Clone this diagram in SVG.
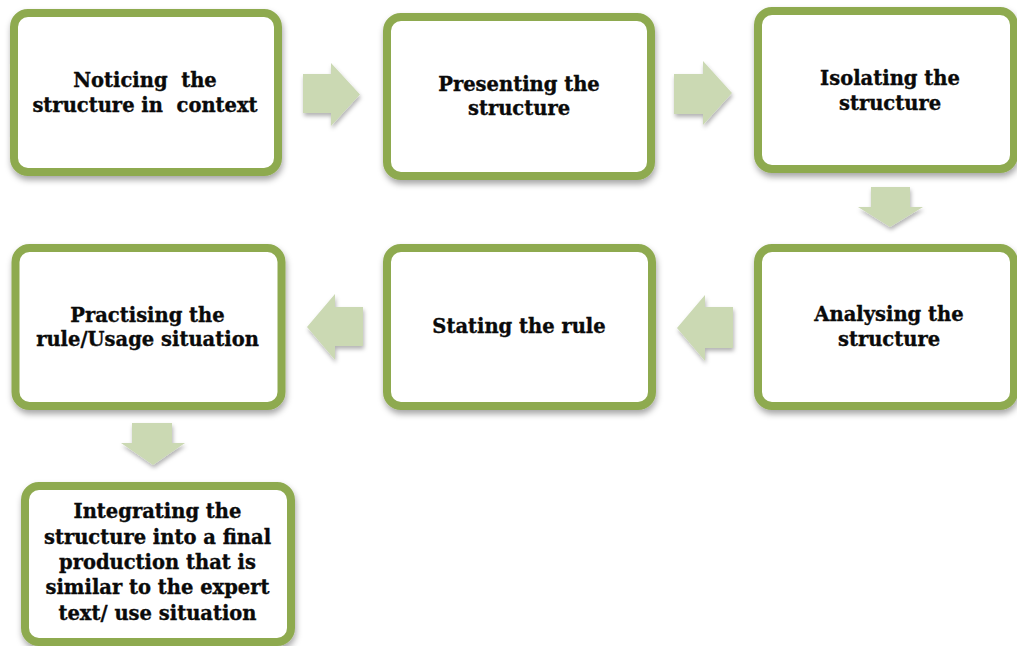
<svg xmlns="http://www.w3.org/2000/svg" width="1017" height="646" viewBox="0 0 1017 646">
  <defs>
    <filter id="shadow" x="-10%" y="-10%" width="125%" height="130%">
      <feDropShadow dx="1" dy="4" stdDeviation="3" flood-color="#000" flood-opacity="0.35"/>
    </filter>
    <filter id="arrowShadow" x="-20%" y="-20%" width="150%" height="150%">
      <feDropShadow dx="1" dy="3" stdDeviation="2" flood-color="#000" flood-opacity="0.3"/>
    </filter>
  </defs>
  <style>
    .box { fill: #ffffff; stroke: #8EAA50; stroke-width: 8; filter: url(#shadow); }
    .label { font-family: "DejaVu Serif", "Liberation Serif", serif; font-weight: bold; font-size: 19.5px; fill: #0a0a0a; stroke: #0a0a0a; stroke-width: 0.35; text-anchor: middle; white-space: pre; }
    .arrow { fill: #CBD9B3; stroke: none; filter: url(#arrowShadow); }
  </style>
  <rect width="1017" height="646" fill="#ffffff"/>

  <!-- Flow arrows between steps -->
  <g id="connectors">
    <path class="arrow" d="M303,74 L331,74 L331,63 L360,94.5 L331,126 L331,113 L303,113 Z"/>
    <path class="arrow" d="M674,74 L703,74 L703,61 L732,93 L703,125 L703,114 L674,114 Z"/>
    <path class="arrow" d="M871,187 L910,187 L910,207 L923,207 L890,227 L858,207 L871,207 Z"/>
    <path class="arrow" d="M733,307 L705,307 L705,295 L677,328 L705,361 L705,348 L733,348 Z"/>
    <path class="arrow" d="M363,307 L335,307 L335,294 L307,327 L335,360 L335,346 L363,346 Z"/>
    <path class="arrow" d="M132,423 L172,423 L172,443 L185,443 L153,465 L121,443 L132,443 Z"/>
  </g>

  <g id="node-noticing">
    <rect class="box" x="14" y="13" width="264" height="159" rx="14"/>
    <text class="label" xml:space="preserve"><tspan x="145" y="87">Noticing  the</tspan><tspan x="145" y="112">structure in  context</tspan></text>
  </g>

  <g id="node-presenting">
    <rect class="box" x="387" y="17" width="264" height="159" rx="14"/>
    <text class="label"><tspan x="519" y="91">Presenting the</tspan><tspan x="519" y="115">structure</tspan></text>
  </g>

  <g id="node-isolating">
    <rect class="box" x="758" y="11" width="256" height="158" rx="14"/>
    <text class="label"><tspan x="890" y="85">Isolating the</tspan><tspan x="890" y="110">structure</tspan></text>
  </g>

  <g id="node-analysing">
    <rect class="box" x="758" y="248" width="256" height="158" rx="14"/>
    <text class="label"><tspan x="889" y="321">Analysing the</tspan><tspan x="889" y="346">structure</tspan></text>
  </g>

  <g id="node-stating">
    <rect class="box" x="387" y="248" width="265" height="158" rx="14"/>
    <text class="label"><tspan x="519" y="333">Stating the rule</tspan></text>
  </g>

  <g id="node-practising">
    <rect class="box" x="15.5" y="248" width="266" height="158" rx="14"/>
    <text class="label"><tspan x="147.5" y="322">Practising the</tspan><tspan x="147.5" y="346">rule/Usage situation</tspan></text>
  </g>

  <g id="node-integrating">
    <rect class="box" x="25" y="486" width="266" height="156" rx="14"/>
    <text class="label"><tspan x="157.5" y="518">Integrating the</tspan><tspan x="157.5" y="544">structure into a final</tspan><tspan x="157.5" y="569">production that is</tspan><tspan x="157.5" y="594">similar to the expert</tspan><tspan x="157.5" y="620">text/ use situation</tspan></text>
  </g>
</svg>
